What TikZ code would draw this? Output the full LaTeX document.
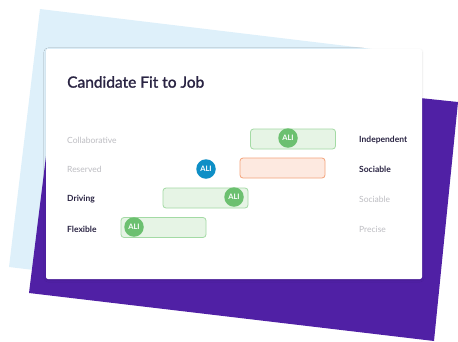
\documentclass[tikz,border=0pt]{standalone}
\usepackage{fontspec}
\setmainfont{Lato}
\newfontfamily\titlefont{Lato}[FakeBold=1.4]
\usepackage{tikz}
\usepackage{xcolor}
\usetikzlibrary{shadows.blur}
\definecolor{ink}{HTML}{2A2443}
\definecolor{faint}{HTML}{BDBDC2}
\definecolor{skyback}{HTML}{DEF0FA}
\definecolor{plum}{HTML}{5020A5}
\definecolor{fitfill}{HTML}{E6F4E5}
\definecolor{fitline}{HTML}{A3DAA4}
\definecolor{fitdot}{HTML}{6CC070}
\definecolor{missfill}{HTML}{FDE9E0}
\definecolor{missline}{HTML}{F4A37A}
\definecolor{alidot}{HTML}{0E8FC6}
\tikzset{
    fit-card/.style = {fill=white, rounded corners=2pt, blur shadow={shadow blur steps=6, shadow xshift=0pt, shadow yshift=-1pt, shadow opacity=12}},
    fit-bar/.style = {draw=fitline, fill=fitfill, line width=0.8pt, rectangle, rounded corners=3pt, minimum width=85pt, minimum height=20pt, inner sep=0pt},
    miss-bar/.style = {fit-bar, draw=missline, fill=missfill},
    ali-dot/.style = {circle, fill=fitdot, text=white, font=\fontsize{7.5}{8}\selectfont\bfseries, minimum size=19.5pt, inner sep=0pt},
    ali-dot-blue/.style = {ali-dot, fill=alidot},
    trait-faint/.style = {text=faint, font=\fontsize{8.5}{10}\selectfont, inner sep=0pt},
    trait-strong/.style = {text=ink, font=\fontsize{8.5}{10}\selectfont\bfseries, inner sep=0pt},
}

\begin{document}
\begin{tikzpicture}[x=1pt, y=-1pt]
\useasboundingbox (0,0) rectangle (458,341);
\fill[skyback] (40,9) -- (372,49) -- (372,280) -- (200,290) -- (9,267) -- cycle;
\fill[plum] (58,60) -- (458,102) -- (434,341) -- (29,293) -- cycle;
\path[fit-card] (46,49) rectangle (422,279);

\node[text=ink, font=\titlefont\fontsize{15.5}{18}\selectfont, anchor=west, inner sep=0pt] (title) at (67,82) {Candidate Fit to Job};

\node[trait-faint, anchor=west] (left1) at (67,140) {Collaborative};
\node[trait-faint, anchor=west] (left2) at (67,169) {Reserved};
\node[trait-strong, anchor=west] (left3) at (67,199) {Driving};
\node[trait-strong, anchor=west] (left4) at (67,229) {Flexible};

\node[trait-strong, anchor=west] (right1) at (359,140) {Independent};
\node[trait-strong, anchor=west] (right2) at (359,169) {Sociable};
\node[trait-faint, anchor=west] (right3) at (359,199) {Sociable};
\node[trait-faint, anchor=west] (right4) at (359,229) {Precise};

\node[fit-bar] (bar1) at (293,139) {};
\node[miss-bar] (bar2) at (282.5,168) {};
\node[fit-bar] (bar3) at (205.5,198) {};
\node[fit-bar] (bar4) at (163.5,227.5) {};

\node[ali-dot] (dot1) at (288,138) {ALI};
\node[ali-dot-blue] (dot2) at (206,169) {ALI};
\node[ali-dot] (dot3) at (234,197) {ALI};
\node[ali-dot] (dot4) at (134,227) {ALI};
\end{tikzpicture}
\end{document}
